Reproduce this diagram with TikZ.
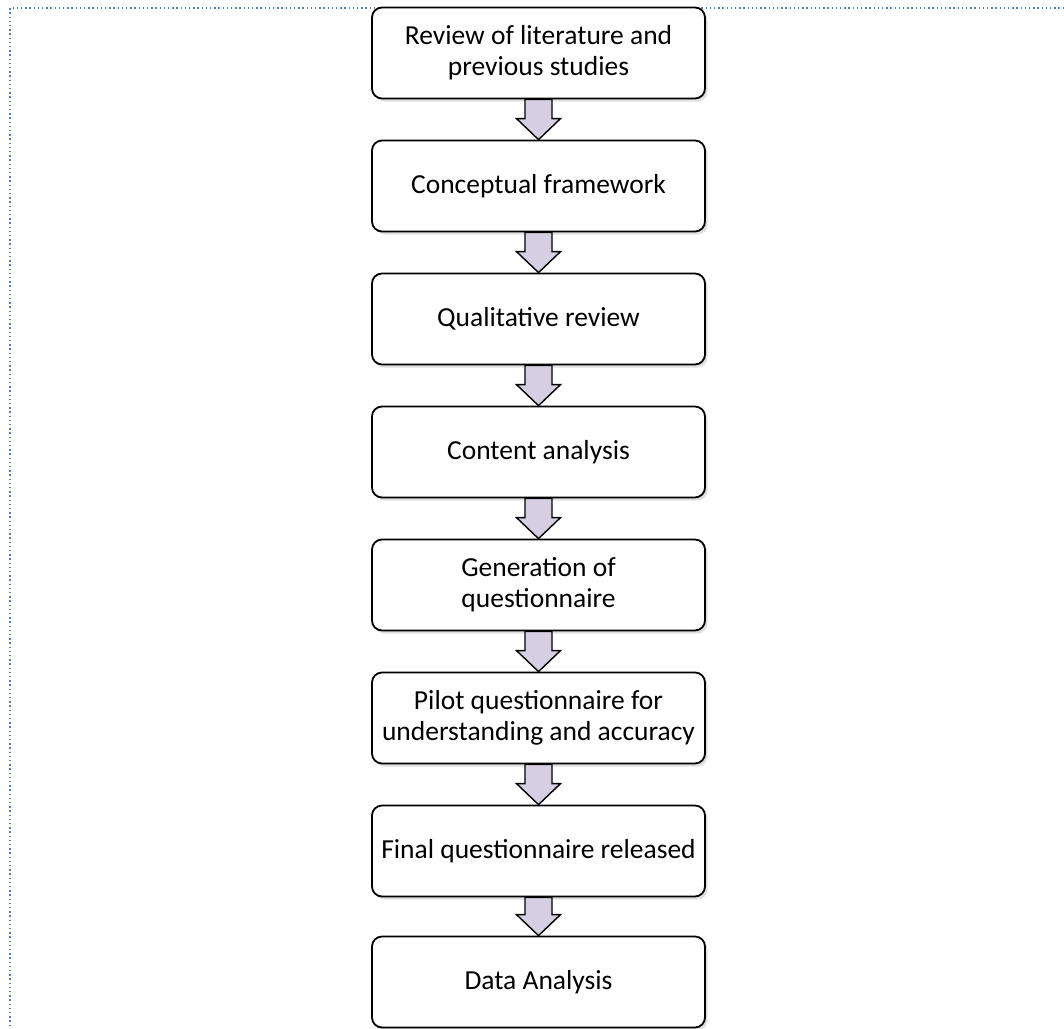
\documentclass[tikz,border=0pt]{standalone}
\usepackage{fontspec}
\setmainfont{Carlito}
\usetikzlibrary{calc,shadows}
\definecolor{frameblue}{HTML}{4F81BD}
\definecolor{arrfill}{HTML}{D6CFE3}
\tikzset{
  stepbox/.style={draw=black, line width=1.8pt, rounded corners=10pt, fill=white,
    minimum width=333pt, minimum height=91pt, align=center, inner sep=2pt,
    font=\fontsize{27.5}{31}\selectfont,
    drop shadow={shadow xshift=2.5pt, shadow yshift=-3pt, opacity=0.2, fill=black!60}},
  blockarrow/.style={draw=black, line width=1.4pt, line join=miter, fill=arrfill},
  frameline/.style={draw=frameblue, line width=1.4pt, dash pattern=on 1.4pt off 2.8pt}
}
\begin{document}
\begin{tikzpicture}[x=1pt,y=-1pt]
\useasboundingbox (0,0) rectangle (1064,1028);
\fill[white] (0,0) rectangle (1064,1028);
\coordinate (fc) at (10,8);
\coordinate (fr) at (1064,8);
\coordinate (fb) at (10,1028);
\draw[frameline] (fr) -- (fc) -- (fb);
\node[stepbox] (b1) at (538.5,53) {Review of literature and\\previous studies};
\node[stepbox] (b2) at (538.5,186) {Conceptual framework};
\node[stepbox] (b3) at (538.5,319) {Qualitative review};
\node[stepbox] (b4) at (538.5,452) {Content analysis};
\node[stepbox] (b5) at (538.5,585) {Generation of\\questionnaire};
\node[stepbox] (b6) at (538.5,718) {Pilot questionnaire for\\understanding and accuracy};
\node[stepbox] (b7) at (538.5,851) {Final questionnaire released};
\node[stepbox] (b8) at (538.5,982) {Data Analysis};
\foreach \a/\b in {b1/b2,b2/b3,b3/b4,b4/b5,b5/b6,b6/b7,b7/b8}{
  \draw[blockarrow] ($(\a.south)+(-13.5,0)$) -- ($(\a.south)+(13.5,0)$)
    -- ($(\b.north)+(13.5,-21)$) -- ($(\b.north)+(22,-21)$) -- (\b.north)
    -- ($(\b.north)+(-22,-21)$) -- ($(\b.north)+(-13.5,-21)$) -- cycle;
}
\end{tikzpicture}
\end{document}
